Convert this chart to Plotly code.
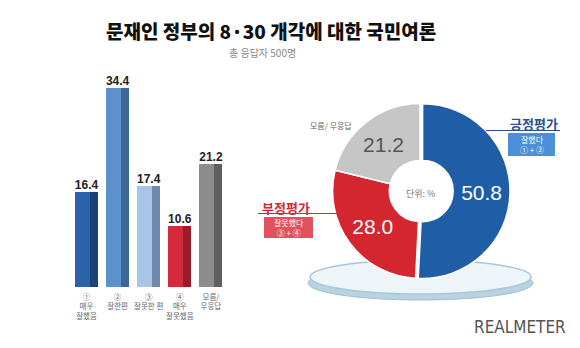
import plotly.graph_objects as go

W, H = 580, 348

# ---------- data ----------
bar_labels = ["①<br>매우<br>잘했음", "②<br>잘한편", "③<br>잘못한 편", "④<br>매우<br>잘못했음", "모름/<br>무응답"]
bar_values = [16.4, 34.4, 17.4, 10.6, 21.2]
bar_front_colors = ["#2b62a8", "#5d91cb", "#a8c5e8", "#d42a3c", "#8c8c8c"]
bar_side_colors = ["#1b4277", "#3c6796", "#6f8aaa", "#9a1b29", "#5f5f5f"]

pie_labels = ["긍정평가", "부정평가", "모름/ 무응답"]
pie_values = [50.8, 28.0, 21.2]
pie_colors = ["#1f5ea6", "#d3262f", "#c6c6c6"]
pie_text_colors = ["#ffffff", "#ffffff", "#555555"]

title = "문재인 정부의 8·30 개각에 대한 국민여론"
subtitle = "총 응답자 500명"

KR = "Noto Sans CJK KR"

def px(x):
    return x / W

def py(y):
    return 1 - y / H

xs = list(range(len(bar_values)))

fig = go.Figure()

# bar side faces (darker) and front faces
fig.add_trace(go.Bar(
    x=xs, y=bar_values, width=0.26, offset=0.11,
    marker=dict(color=bar_side_colors, line=dict(width=0)),
    hoverinfo="skip", showlegend=False))
fig.add_trace(go.Bar(
    x=xs, y=bar_values, width=0.48, offset=-0.37,
    marker=dict(color=bar_front_colors, line=dict(width=0)),
    showlegend=False))
# value labels
fig.add_trace(go.Scatter(
    x=xs, y=bar_values, mode="text",
    text=[f"<b>{v:.1f}</b>" for v in bar_values],
    textposition="top center",
    textfont=dict(family="Liberation Sans", size=12, color="#222222"),
    cliponaxis=False, hoverinfo="skip", showlegend=False))

# donut
fig.add_trace(go.Pie(
    labels=pie_labels, values=pie_values,
    hole=0.35, sort=False, direction="clockwise", rotation=0,
    pull=[0.03, 0, 0],
    marker=dict(colors=pie_colors, line=dict(color="#ffffff", width=1.5)),
    text=[f"{v:.1f}" for v in pie_values], textinfo="text",
    textposition="inside", insidetextorientation="horizontal",
    insidetextfont=dict(family="Liberation Sans", size=21, color=pie_text_colors),
    domain=dict(x=[px(330), px(510)], y=[py(281), py(101)]),
    showlegend=False))

shapes = [
    # platter under the donut
    dict(type="circle", xref="paper", yref="paper", layer="below",
         x0=px(308), x1=px(533), y0=py(300), y1=py(266),
         fillcolor="#b9d3e2", line=dict(color="#9cc0d4", width=1)),
    dict(type="circle", xref="paper", yref="paper", layer="below",
         x0=px(310), x1=px(531), y0=py(294), y1=py(260),
         fillcolor="#eef5f9", line=dict(color="#a6c7da", width=1.5)),
    # label lines
    dict(type="line", xref="paper", yref="paper",
         x0=px(486), x1=px(560), y0=py(130.5), y1=py(130.5),
         line=dict(color="#2a4f8f", width=1)),
    dict(type="line", xref="paper", yref="paper",
         x0=px(258), x1=px(337), y0=py(213.5), y1=py(213.5),
         line=dict(color="#c23040", width=1)),
    # label boxes
    dict(type="rect", xref="paper", yref="paper",
         x0=px(508), x1=px(555), y0=py(156), y1=py(133),
         fillcolor="#4a8fd8", line=dict(width=0)),
    dict(type="rect", xref="paper", yref="paper",
         x0=px(264), x1=px(313), y0=py(238), y1=py(217),
         fillcolor="#e0535e", line=dict(width=0)),
]

def ann(text, x, y, size, color, family=KR, weight=None):
    f = dict(family=family, size=size, color=color)
    if weight:
        f["weight"] = weight
    return dict(text=text, x=px(x), y=py(y), xref="paper", yref="paper",
                xanchor="center", yanchor="middle", showarrow=False, font=f)

annotations = [
    ann(title, 271, 30, 19, "#111111", weight=900),
    ann(subtitle, 262, 52, 10, "#888888"),
    ann("긍정평가", 534, 123, 13, "#2a4f8f", weight=700),
    ann("잘했다<br>① + ②", 531.5, 144.5, 8, "#ffffff"),
    ann("부정평가", 286, 207, 13, "#d0283a", weight=700),
    ann("잘못했다<br>③ + ④", 288.5, 227.5, 8, "#ffffff"),
    ann("모름/ 무응답", 331, 125, 8, "#666666"),
    ann("단위: %", 420, 193, 9, "#777777"),
    ann("REALMETER", 520, 327, 17, "#555555",
        family="DejaVu Sans Condensed, Liberation Sans Narrow, Roboto Condensed, Roboto", weight=300),
]

fig.update_layout(
    width=W, height=H,
    margin=dict(l=0, r=0, t=0, b=0),
    paper_bgcolor="#ffffff", plot_bgcolor="rgba(0,0,0,0)",
    barmode="overlay", bargap=0,
    shapes=shapes, annotations=annotations,
    xaxis=dict(domain=[px(70.95), px(226.45)], range=[-0.5, 4.5],
               tickmode="array", tickvals=xs, ticktext=bar_labels,
               tickfont=dict(family=KR, size=7.5, color="#666666"),
               ticklabelstandoff=4,
               showgrid=False, zeroline=False, showline=False, ticks=""),
    yaxis=dict(domain=[py(287), py(70)], range=[0, 34.4 * (287 - 70) / 199],
               visible=False, showgrid=False, zeroline=False),
)

fig.write_html("out.html")
